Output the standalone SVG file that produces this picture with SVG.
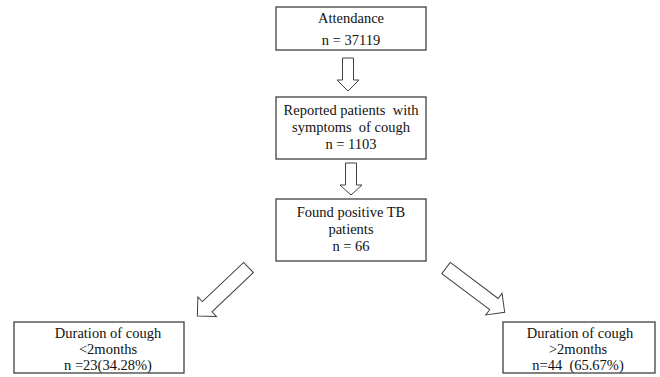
<svg xmlns="http://www.w3.org/2000/svg" width="660" height="377" viewBox="0 0 660 377">
<style>
.box{fill:#fff;stroke:#404040;stroke-width:1.3}
.arr{fill:#fff;stroke:#404040;stroke-width:1}
text{font-family:"Liberation Serif","Times New Roman",serif;font-size:14.5px;fill:#111;text-anchor:middle;white-space:pre}
</style>
<rect width="660" height="377" fill="#fff"/>
<g id="connectors">
<polygon class="arr" points="342.5,58 353.5,58 353.5,80 359,80 348,91 337,80 342.5,80"/>
<polygon class="arr" points="345.5,163 356.5,163 356.5,185 362,185 351,195 340,185 345.5,185"/>
<g transform="translate(248.5,267.5) rotate(136.5)">
<polygon class="arr" points="0,-7 57,-7 57,-13.5 70.5,0 57,13.5 57,7 0,7"/>
</g>
<g transform="translate(446,268) rotate(37)">
<polygon class="arr" points="0,-7 60,-7 60,-13.5 73.5,0 60,13.5 60,7 0,7"/>
</g>
</g>
<g id="attendance">
<rect class="box" x="276" y="7" width="150" height="43"/>
<text x="351" y="23">Attendance</text>
<text x="351" y="45">n = 37119</text>
</g>
<g id="reported">
<rect class="box" x="276" y="97" width="150" height="62"/>
<text x="351" y="115" xml:space="preserve">Reported patients  with</text>
<text x="351" y="132" xml:space="preserve">symptoms  of cough</text>
<text x="351" y="149">n = 1103</text>
</g>
<g id="positive">
<rect class="box" x="276" y="199" width="150" height="62"/>
<text x="351" y="217">Found positive TB</text>
<text x="351" y="234">patients</text>
<text x="351" y="251">n = 66</text>
</g>
<g id="less2">
<rect class="box" x="14" y="322" width="170" height="51"/>
<text x="108" y="338">Duration of cough</text>
<text x="108" y="354">&lt;2months</text>
<text x="108" y="370">n =23(34.28%)</text>
</g>
<g id="more2">
<rect class="box" x="503" y="322" width="152" height="51"/>
<text x="580" y="338">Duration of cough</text>
<text x="578" y="354">&gt;2months</text>
<text x="578" y="370" xml:space="preserve">n=44  (65.67%)</text>
</g>
</svg>
